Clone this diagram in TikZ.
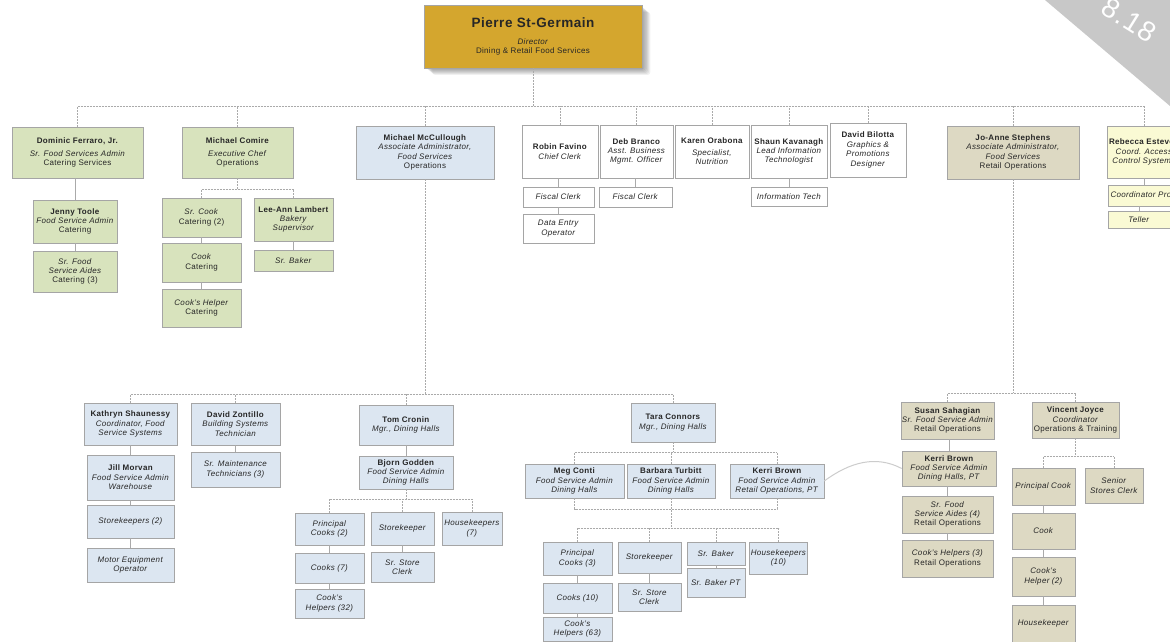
\documentclass[tikz,border=0pt]{standalone}
\usepackage{fontspec}
\setmainfont{Liberation Sans}[LetterSpace=4]

\definecolor{gold}{RGB}{212,166,46}
\definecolor{grn}{RGB}{216,227,189}
\definecolor{blu}{RGB}{220,230,241}
\definecolor{tanbox}{RGB}{221,217,195}
\definecolor{ylw}{RGB}{250,250,212}
\definecolor{edge}{RGB}{165,165,165}
\definecolor{link}{RGB}{170,170,170}
\definecolor{stamp}{RGB}{200,200,200}

\tikzset{
  box/.style={draw=edge, line width=0.6pt, inner sep=1pt, align=center,
    font=\fontsize{8}{9.4}\selectfont, text=black!85},
  tree/.style={draw=link, line width=0.6pt, dash pattern=on 2pt off 1pt},
  chain/.style={draw=link, line width=0.6pt},
  swoop/.style={draw=black!20, line width=1pt},
  softshadow/.style={fill=black, opacity=0.06, rounded corners=3pt},
}
\newcommand\nm[1]{\textbf{#1}}
\newcommand\ti[1]{\textit{#1}}
% box from corner (x1,y1) to corner (x2,y2), y counted downwards
\newcommand\bx[7][]{\node[box,#1,minimum width={#5-#3},minimum height={#6-#4}] (#2) at ({(#3+#5)/2},{(#4+#6)/2}) {#7};}
% vertical drop from a bar down to the top of a box
\newcommand\drop[2]{\draw[tree] (#1.north) -- (#1.north |- #2);}
% solid link from the box above to the box below
\newcommand\lnk[2]{\draw[chain] (#2.north) -- (#2.north |- #1.south);}

\begin{document}
\begin{tikzpicture}[x={(1pt,0pt)}, y={(0pt,-1pt)}]
\useasboundingbox (0,0) rectangle (1170,642);
\fill[white] (0,0) rectangle (1170,642);

% ---- director, with a soft drop shadow behind
\foreach \s in {2,3,4,5,6,7}
  \fill[softshadow] (424+\s*1.2,5+\s) rectangle (642+\s*1.2,68+\s);
\bx[fill=gold]{P}{424}{5}{642}{68}{{\fontsize{13.5}{15}\selectfont\bfseries Pierre St-Germain}\\[7pt]\ti{Director}\\Dining \& Retail Food Services}

% ---- first level
\bx[fill=grn]{Dom}{12}{127}{143}{178}{\nm{Dominic Ferraro, Jr.}\\[4pt]\ti{Sr. Food Services Admin}\\Catering Services}
\bx[fill=grn]{Com}{182}{127}{293}{178}{\nm{Michael Comire}\\[4pt]\ti{Executive Chef}\\Operations}
\bx[fill=blu]{McC}{356}{126}{494}{179}{\nm{Michael McCullough}\\\ti{Associate Administrator,}\\\ti{Food Services}\\Operations}
\bx[fill=white]{Rob}{522}{125}{598}{178}{\nm{Robin Favino}\\\ti{Chief Clerk}}
\bx[fill=white]{Deb}{600}{125}{673}{178}{\nm{Deb Branco}\\\ti{Asst. Business}\\\ti{Mgmt. Officer}}
\bx[fill=white]{Kar}{675}{125}{749}{178}{\nm{Karen Orabona}\\[2pt]\ti{Specialist,}\\\ti{Nutrition}}
\bx[fill=white]{Sha}{751}{125}{827}{178}{\nm{Shaun Kavanagh}\\\ti{Lead Information}\\\ti{Technologist}}
\bx[fill=white]{Bil}{830}{123}{906}{177}{\nm{David Bilotta}\\\ti{Graphics \&}\\\ti{Promotions}\\\ti{Designer}}
\bx[fill=tanbox]{Jo}{947}{126}{1079}{179}{\nm{Jo-Anne Stephens}\\\ti{Associate Administrator,}\\\ti{Food Services}\\Retail Operations}
\bx[fill=ylw]{Reb}{1107}{126}{1181}{178}{\nm{Rebecca Esteves}\\\ti{Coord. Access}\\\ti{Control Systems}}

% ---- catering, operations, clerical
\bx[fill=grn]{Jen}{33}{200}{117}{243}{\nm{Jenny Toole}\\\ti{Food Service Admin}\\Catering}
\bx[fill=grn]{Aid}{33}{251}{117}{292}{\ti{Sr. Food}\\\ti{Service Aides}\\Catering (3)}
\bx[fill=grn]{SCk}{162}{198}{241}{237}{\ti{Sr. Cook}\\Catering (2)}
\bx[fill=grn]{Ck}{162}{243}{241}{282}{\ti{Cook}\\Catering}
\bx[fill=grn]{CkH}{162}{289}{241}{327}{\ti{Cook's Helper}\\Catering}
\bx[fill=grn]{Lee}{254}{198}{333}{241}{\nm{Lee-Ann Lambert}\\\ti{Bakery}\\\ti{Supervisor}}
\bx[fill=grn]{SBk}{254}{250}{333}{271}{\ti{Sr. Baker}}
\bx[fill=white]{FC1}{523}{187}{594}{207}{\ti{Fiscal Clerk}}
\bx[fill=white]{DEO}{523}{214}{594}{243}{\ti{Data Entry}\\\ti{Operator}}
\bx[fill=white]{FC2}{599}{187}{672}{207}{\ti{Fiscal Clerk}}
\bx[fill=white]{IT}{751}{187}{827}{206}{\ti{Information Tech}}
\bx[fill=ylw, text width=68pt, align=left]{CoP}{1108}{185}{1181}{206}{\mbox{\ti{Coordinator Programs}}}
\bx[fill=ylw]{Tel}{1108}{211}{1170}{228}{\ti{Teller}}

% ---- food services operations
\bx[fill=blu]{Kat}{84}{403}{177}{445}{\nm{Kathryn Shaunessy}\\\ti{Coordinator, Food}\\\ti{Service Systems}}
\bx[fill=blu]{Jil}{87}{455}{174}{500}{\nm{Jill Morvan}\\\ti{Food Service Admin}\\\ti{Warehouse}}
\bx[fill=blu]{Stk}{87}{505}{174}{538}{\ti{Storekeepers (2)}}
\bx[fill=blu]{MEO}{87}{548}{174}{582}{\ti{Motor Equipment}\\\ti{Operator}}
\bx[fill=blu]{Zon}{191}{403}{280}{445}{\nm{David Zontillo}\\\ti{Building Systems}\\\ti{Technician}}
\bx[fill=blu]{SMT}{191}{452}{280}{487}{\ti{Sr. Maintenance}\\\ti{Technicians (3)}}
\bx[fill=blu]{Tom}{359}{405}{453}{445}{\nm{Tom Cronin}\\\ti{Mgr., Dining Halls}}
\bx[fill=blu]{Bjo}{359}{456}{453}{489}{\nm{Bjorn Godden}\\\ti{Food Service Admin}\\\ti{Dining Halls}}
\bx[fill=blu]{PC2}{295}{513}{364}{545}{\ti{Principal}\\\ti{Cooks (2)}}
\bx[fill=blu]{SK1}{371}{512}{434}{545}{\ti{Storekeeper}}
\bx[fill=blu]{HK7}{442}{512}{502}{545}{\ti{Housekeepers}\\\ti{(7)}}
\bx[fill=blu]{CK7}{295}{553}{364}{583}{\ti{Cooks (7)}}
\bx[fill=blu]{SSC1}{371}{552}{434}{582}{\ti{Sr. Store}\\\ti{Clerk}}
\bx[fill=blu]{CH32}{295}{589}{364}{618}{\ti{Cook's}\\\ti{Helpers (32)}}

\bx[fill=blu]{Tar}{631}{403}{715}{442}{\nm{Tara Connors}\\\ti{Mgr., Dining Halls}}
\bx[fill=blu]{Meg}{525}{464}{624}{498}{\nm{Meg Conti}\\\ti{Food Service Admin}\\\ti{Dining Halls}}
\bx[fill=blu]{Bar}{627}{464}{715}{498}{\nm{Barbara Turbitt}\\\ti{Food Service Admin}\\\ti{Dining Halls}}
\bx[fill=blu]{Ker1}{730}{464}{824}{498}{\nm{Kerri Brown}\\\ti{Food Service Admin}\\\ti{Retail Operations, PT}}
\bx[fill=blu]{PC3}{543}{542}{612}{575}{\ti{Principal}\\\ti{Cooks (3)}}
\bx[fill=blu]{SK2}{618}{542}{681}{573}{\ti{Storekeeper}}
\bx[fill=blu]{SBa}{687}{542}{745}{565}{\ti{Sr. Baker}}
\bx[fill=blu]{HK10}{751}{542}{806}{574}{\ti{Housekeepers}\\\ti{(10)}}
\bx[fill=blu]{SBP}{687}{568}{745}{597}{\ti{Sr. Baker PT}}
\bx[fill=blu]{CK10}{543}{583}{612}{613}{\ti{Cooks (10)}}
\bx[fill=blu]{SSC2}{618}{583}{681}{611}{\ti{Sr. Store}\\\ti{Clerk}}
\bx[fill=blu]{CH63}{543}{617}{612}{641}{\ti{Cook's}\\\ti{Helpers (63)}}

% ---- retail operations
\bx[fill=tanbox]{Sus}{902}{402}{993}{439}{\nm{Susan Sahagian}\\\ti{Sr. Food Service Admin}\\Retail Operations}
\bx[fill=tanbox]{Vin}{1032}{402}{1119}{438}{\nm{Vincent Joyce}\\\ti{Coordinator}\\Operations \& Training}
\bx[fill=tanbox]{Ker2}{902}{451}{996}{486}{\nm{Kerri Brown}\\\ti{Food Service Admin}\\\ti{Dining Halls, PT}}
\bx[fill=tanbox]{Aid4}{902}{496}{993}{533}{\ti{Sr. Food}\\\ti{Service Aides (4)}\\Retail Operations}
\bx[fill=tanbox]{CH3}{902}{540}{993}{577}{\ti{Cook's Helpers (3)}\\Retail Operations}
\bx[fill=tanbox]{PCk}{1012}{468}{1075}{505}{\ti{Principal Cook}}
\bx[fill=tanbox]{SSC3}{1085}{468}{1143}{503}{\ti{Senior}\\\ti{Stores Clerk}}
\bx[fill=tanbox]{Ck2}{1012}{513}{1075}{549}{\ti{Cook}}
\bx[fill=tanbox]{CH2}{1012}{557}{1075}{596}{\ti{Cook's}\\\ti{Helper (2)}}
\bx[fill=tanbox]{HK1}{1012}{605}{1075}{642}{\ti{Housekeeper}}

% ---- bars
\coordinate (btop) at (0,106);
\coordinate (bcom) at (0,189);
\coordinate (bmcc) at (0,394);
\coordinate (bjo)  at (0,393);
\coordinate (bbjo) at (0,499);
\coordinate (btar) at (0,452);
\coordinate (btr2) at (0,509);
\coordinate (btr3) at (0,528);
\coordinate (bvin) at (0,456);

% director to first level
\draw[tree] (P.south) -- (P.south |- btop);
\draw[tree] (Dom.north |- btop) -- (Reb.north |- btop);
\foreach \n in {Dom,Com,McC,Rob,Deb,Kar,Sha,Bil,Jo,Reb} {\drop{\n}{btop}}

% catering
\lnk{Dom}{Jen} \lnk{Jen}{Aid}
% executive chef
\draw[tree] (Com.south) -- (Com.south |- bcom);
\draw[tree] (SCk.north |- bcom) -- (Lee.north |- bcom);
\drop{SCk}{bcom} \drop{Lee}{bcom}
\lnk{SCk}{Ck} \lnk{Ck}{CkH} \lnk{Lee}{SBk}
% clerical
\lnk{Rob}{FC1} \lnk{FC1}{DEO} \lnk{Deb}{FC2} \lnk{Sha}{IT}
\lnk{Reb}{CoP} \lnk{CoP}{Tel}

% food services operations
\draw[tree] (McC.south) -- (McC.south |- bmcc);
\draw[tree] (Kat.north |- bmcc) -- (Tar.north |- bmcc);
\foreach \n in {Kat,Zon,Tom,Tar} {\drop{\n}{bmcc}}
\lnk{Kat}{Jil} \lnk{Jil}{Stk} \lnk{Stk}{MEO}
\lnk{Zon}{SMT}
\lnk{Tom}{Bjo}
\draw[tree] (Bjo.south) -- (Bjo.south |- bbjo);
\draw[tree] (PC2.north |- bbjo) -- (HK7.north |- bbjo);
\foreach \n in {PC2,SK1,HK7} {\drop{\n}{bbjo}}
\lnk{PC2}{CK7} \lnk{CK7}{CH32} \lnk{SK1}{SSC1}

\draw[tree] (Tar.south) -- (Tar.south |- btar);
\draw[tree] (Meg.north |- btar) -- (Ker1.north |- btar);
\foreach \n in {Meg,Bar,Ker1} {\drop{\n}{btar}}
\draw[tree] (Meg.south) -- (Meg.south |- btr2) -- (Ker1.south |- btr2) -- (Ker1.south);
\draw[tree] (Bar.south) -- (Bar.south |- btr3);
\draw[tree] (PC3.north |- btr3) -- (HK10.north |- btr3);
\foreach \n in {PC3,SK2,SBa,HK10} {\drop{\n}{btr3}}
\lnk{PC3}{CK10} \lnk{CK10}{CH63} \lnk{SK2}{SSC2} \lnk{SBa}{SBP}

% retail operations
\draw[tree] (Jo.south) -- (Jo.south |- bjo);
\draw[tree] (Sus.north |- bjo) -- (Vin.north |- bjo);
\drop{Sus}{bjo} \drop{Vin}{bjo}
\lnk{Sus}{Ker2} \lnk{Ker2}{Aid4} \lnk{Aid4}{CH3}
\draw[tree] (Vin.south) -- (Vin.south |- bvin);
\draw[tree] (PCk.north |- bvin) -- (SSC3.north |- bvin);
\drop{PCk}{bvin} \drop{SSC3}{bvin}
\lnk{PCk}{Ck2} \lnk{Ck2}{CH2} \lnk{CH2}{HK1}

% same person in two posts
\draw[swoop] (Ker1.east) .. controls (850,462) and (876,455) .. (Ker2.west);

% corner stamp
\fill[stamp] (1045,0) -- (1170,0) -- (1170,106) -- cycle;
\node[text=white, rotate=-32, font=\fontsize{28}{28}\selectfont] (stampno) at (1129,20) {8.18};
\end{tikzpicture}
\end{document}
